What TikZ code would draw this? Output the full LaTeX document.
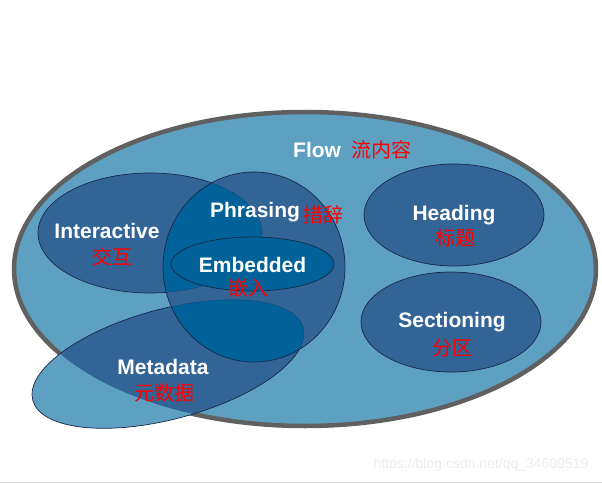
\documentclass[tikz,border=0pt]{standalone}
\usepackage{fontspec}
\setmainfont{Liberation Sans}
\newfontfamily\cjk{Noto Sans CJK SC}
\usetikzlibrary{positioning}
\definecolor{flowblue}{RGB}{94,160,193}
\definecolor{setblue}{RGB}{50,100,150}
\definecolor{mixblue}{RGB}{0,98,152}
\definecolor{rimgray}{RGB}{96,96,96}
\definecolor{edgenavy}{RGB}{25,40,75}
\definecolor{markgray}{RGB}{236,236,236}
\definecolor{rulegray}{RGB}{214,214,214}
\tikzset{
    setedge/.style={draw=edgenavy, line width=0.7pt},
    faintedge/.style={draw=edgenavy, line width=0.5pt, densely dotted},
    entext/.style={text=white, font=\bfseries\fontsize{21}{24}\selectfont, inner sep=0pt},
    zhtext/.style={text=red, font=\cjk\fontsize{20}{24}\selectfont, inner sep=0pt},
    flowset/.style={x radius=291pt, y radius=157pt},
    interset/.style={x radius=112pt, y radius=60pt},
    phraseset/.style={x radius=91pt, y radius=95pt},
    metaset/.style={x radius=140pt, y radius=55pt},
    metaturn/.style={rotate around={15:(168,364)}}
}
\begin{document}
\begin{tikzpicture}[x=1pt,y=-1pt]
    \useasboundingbox (0,0) rectangle (602,484);
    % Flow set
    \fill[flowblue] (305,269) ellipse [flowset];
    \draw[rimgray, line width=4.5pt] (305,269) ellipse [flowset];
    % Metadata set, light outside Flow and dark inside it
    \fill[flowblue, metaturn] (168,364) ellipse [metaset];
    \begin{scope}
        \clip (305,269) ellipse [flowset];
        \fill[setblue, metaturn] (168,364) ellipse [metaset];
    \end{scope}
    \draw[setedge, metaturn] (168,364) ellipse [metaset];
    % Interactive and Phrasing sets
    \fill[setblue, setedge] (150,233) ellipse [interset];
    \fill[setblue] (254,267) ellipse [phraseset];
    % Overlaps inside Phrasing
    \begin{scope}
        \clip (254,267) ellipse [phraseset];
        \fill[mixblue] (150,233) ellipse [interset];
        \fill[mixblue, metaturn] (168,364) ellipse [metaset];
        \draw[faintedge] (150,233) ellipse [interset];
        \draw[faintedge, metaturn] (168,364) ellipse [metaset];
    \end{scope}
    \draw[setedge] (254,267) ellipse [phraseset];
    % Embedded set
    \fill[mixblue, setedge] (252.5,264) ellipse [x radius=81.5pt, y radius=27pt];
    % Heading and Sectioning sets
    \fill[setblue, setedge] (454,215) ellipse [x radius=90pt, y radius=51pt];
    \fill[setblue, setedge] (451,322) ellipse [x radius=90pt, y radius=50pt];
    % Labels
    \node[entext, anchor=west] (flowEn) at (293,150) {Flow};
    \node[zhtext, right=10pt of flowEn] (flowZh) {流内容};
    \node[entext] (interEn) at (107,231) {Interactive};
    \node[zhtext] (interZh) at (112,257) {交互};
    \node[entext] (phraseEn) at (255,212) {Phrasing};
    \node[zhtext, right=3pt of phraseEn, yshift=-3pt] (phraseZh) {措辞};
    \node[entext] (embedEn) at (252.5,265) {Embedded};
    \node[zhtext] (embedZh) at (248,288) {嵌入};
    \node[entext] (headEn) at (454,215) {Heading};
    \node[zhtext] (headZh) at (455,238) {标题};
    \node[entext] (sectEn) at (452,322) {Sectioning};
    \node[zhtext] (sectZh) at (452,348) {分区};
    \node[entext] (metaEn) at (163,367) {Metadata};
    \node[zhtext] (metaZh) at (164,393) {元数据};
    % Watermark and bottom rule
    \node[text=markgray, font=\fontsize{14}{16}\selectfont, anchor=east] (mark) at (592,465) {https://blog.csdn.net/qq\_34609519};
    \draw[rulegray, line width=1.5pt] (0,482.5) -- (602,482.5);
\end{tikzpicture}
\end{document}
